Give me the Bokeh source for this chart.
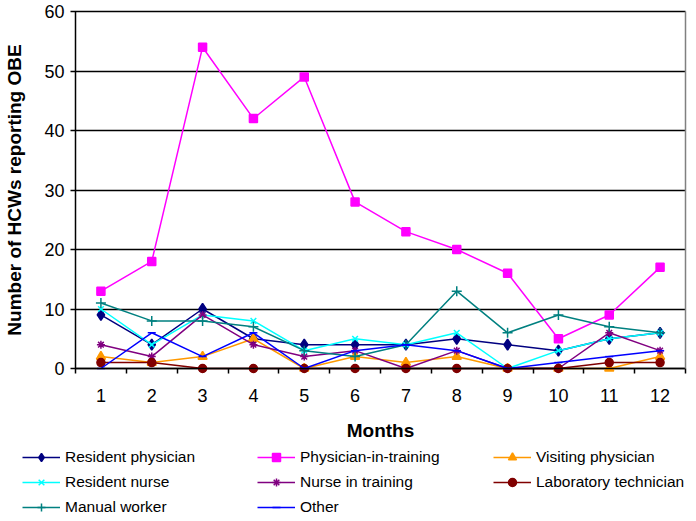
from bokeh.plotting import figure
from bokeh.models import Range1d, FixedTicker, Legend, LegendItem, LinearAxis
from bokeh.embed import file_html
from bokeh.resources import INLINE

months = [1, 2, 3, 4, 5, 6, 7, 8, 9, 10, 11, 12]
month_labels = [str(m) for m in months]
y_ticks = [0, 10, 20, 30, 40, 50, 60]

resident_physician = [9, 4, 10, 5, 4, 4, 4, 5, 4, 3, 5, 6]
physician_in_training = [13, 18, 54, 42, 49, 28, 23, 20, 16, 5, 9, 17]
visiting_physician = [2, 1, 2, 5, 0, 2, 1, 2, 0, 0, 0, 2]
resident_nurse = [10, 4, 9, 8, 3, 5, 4, 6, 0, 3, 5, 6]
nurse_in_training = [4, 2, 9, 4, 2, 3, 0, 3, 0, 0, 6, 3]
laboratory_technician = [1, 1, 0, 0, 0, 0, 0, 0, 0, 0, 1, 1]
manual_worker = [11, 8, 8, 7, 3, 2, 4, 13, 6, 9, 7, 6]
other = [0, 6, 2, 6, 0, 3, 4, 3, 0, 1, 2, 3]

series = [
    ("Resident physician", resident_physician, "#000080", "diamond", 11),
    ("Physician-in-training", physician_in_training, "#FF00FF", "square", 8),
    ("Visiting physician", visiting_physician, "#FF9900", "triangle", 9),
    ("Resident nurse", resident_nurse, "#00FFFF", "x", 8),
    ("Nurse in training", nurse_in_training, "#800080", "asterisk", 8),
    ("Laboratory technician", laboratory_technician, "#800000", "circle", 8),
    ("Manual worker", manual_worker, "#008080", "cross", 10),
    ("Other", other, "#0000FF", "dash", 8),
]

FONT = "Liberation Sans"
W, H = 696, 521
TOP = 11                      # pixel row of the value 60
AX_Y = 368                    # pixel row of the value 0
AX_L, AX_R = 75, 685          # pixel columns of the plot-area edges
ypx = (AX_Y - TOP) / 60.0
xpx = (AX_R - AX_L) / 12.0
y_start = -(H - AX_Y) / ypx
y_end = 60 + TOP / ypx
x_start = 0.5 - AX_L / xpx
x_end = 12.5 + (W - AX_R) / xpx

p = figure(width=W, height=H, output_backend="svg", toolbar_location=None,
           x_range=Range1d(x_start, x_end), y_range=Range1d(y_start, y_end),
           min_border_left=0, min_border_right=0, min_border_top=0,
           min_border_bottom=0)
p.background_fill_color = "white"
p.border_fill_color = "white"
p.outline_line_color = None
p.xgrid.grid_line_color = None
p.ygrid.grid_line_color = None

# x axis, fixed at value 0
xa = p.xaxis[0]
xa.fixed_location = 0
xa.bounds = (0.5, 12.5)
xa.ticker = FixedTicker(ticks=months, minor_ticks=[0.5 + i for i in range(13)])
xa.major_label_overrides = {m: l for m, l in zip(months, month_labels)}
xa.major_tick_line_color = None
xa.major_tick_out = 5
xa.major_tick_in = 0
xa.minor_tick_out = 5
xa.minor_tick_in = 0
xa.minor_tick_line_color = "black"
xa.minor_tick_line_width = 1.5
xa.axis_line_color = "black"
xa.axis_line_width = 1.5
xa.major_label_text_font = FONT
xa.major_label_text_font_size = "18px"
xa.major_label_text_color = "black"
xa.major_label_standoff = 15
xa.axis_label = "Months"
xa.axis_label_text_font = FONT
xa.axis_label_text_font_size = "19px"
xa.axis_label_text_font_style = "bold"
xa.axis_label_text_color = "black"
xa.axis_label_standoff = 15

# y axis, fixed at the left edge of the plot area; inner ticks act as gridlines
ya = p.yaxis[0]
ya.fixed_location = 0.5
ya.bounds = (0, 60)
ya.level = "underlay"
ya.ticker = FixedTicker(ticks=y_ticks)
ya.minor_tick_line_color = None
ya.major_tick_out = 5
ya.major_tick_in = AX_R - AX_L
ya.major_tick_line_color = "black"
ya.major_tick_line_width = 1.5
ya.axis_line_color = "black"
ya.axis_line_width = 1.5
ya.major_label_text_font = FONT
ya.major_label_text_font_size = "18px"
ya.major_label_text_color = "black"
ya.major_label_standoff = 6
ya.axis_label = "Number of HCWs reporting OBE"
ya.axis_label_text_font = FONT
ya.axis_label_text_font_size = "19px"
ya.axis_label_text_font_style = "bold"
ya.axis_label_text_color = "black"
ya.axis_label_standoff = 16

# grey right border of the plot area
ra = LinearAxis(fixed_location=12.5, bounds=(0, 60), ticker=FixedTicker(ticks=[]),
                axis_line_color="#808080", axis_line_width=1.5,
                major_tick_line_color=None, minor_tick_line_color=None,
                major_label_text_font_size="0px")
p.add_layout(ra, "right")

items = []
for name, vals, color, marker, size in series:
    ln = p.line(months, vals, line_color=color, line_width=1.5)
    mk = p.scatter(months, vals, marker=marker, size=size, fill_color=color,
                   line_color=color, line_width=1.5)
    items.append(LegendItem(label=name, renderers=[ln, mk]))

columns = [[items[0], items[3], items[6]],
           [items[1], items[4], items[7]],
           [items[2], items[5]]]
col_x = [22, 257, 493]
row1_top = 447
for col, x in zip(columns, col_x):
    n = len(col)
    h = n * 20 + (n - 1) * 5
    leg = Legend(items=col, location=(x, H - row1_top - h),
                 orientation="vertical",
                 glyph_width=38, glyph_height=20, label_height=20,
                 label_standoff=5, spacing=5, padding=0, margin=0,
                 border_line_color=None, background_fill_alpha=0,
                 label_text_font=FONT, label_text_font_size="15.5px",
                 label_text_color="black")
    p.add_layout(leg)

open("out.html", "w").write(file_html(p, INLINE))
